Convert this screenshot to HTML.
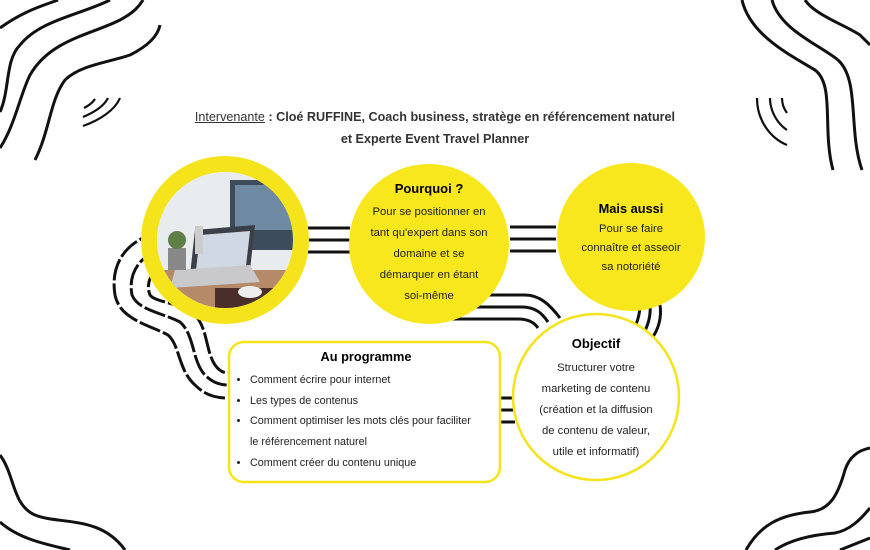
<!DOCTYPE html>
<html><head><meta charset="utf-8"><style>
body{margin:0;width:870px;height:550px;background:#fff;overflow:hidden;position:relative;font-family:"Liberation Sans",sans-serif;color:#333}
.t{position:absolute;text-align:center;white-space:nowrap}
</style></head><body>
<svg width="870" height="550" style="position:absolute;left:0;top:0" fill="none" stroke="#111">
<g stroke-width="3">
<path d="M0,28 C25,10 45,5 58,0"/>
<path d="M0,112 C10,90 5,60 20,45 C40,20 80,15 110,0"/>
<path d="M0,148 C15,125 20,95 30,75 C50,40 90,35 120,20 C135,12 140,5 143,0"/>
<path d="M35,160 C50,130 50,100 65,80 C80,65 110,62 130,55 C150,45 158,35 160,25"/>
<path d="M742,0 C750,35 790,55 815,70 C835,85 822,130 833,170"/>
<path d="M772,0 C780,30 820,45 838,60 C860,80 848,130 862,170"/>
<path d="M805,0 C815,15 845,25 860,35 L870,45"/>
<path d="M0,455 C15,475 12,505 35,515 C60,525 100,515 125,550"/>
<path d="M0,522 C20,540 50,545 70,550"/>
<path d="M746,550 C760,525 780,515 810,512 C830,510 838,495 845,470 C850,455 860,450 870,448"/>
<path d="M775,550 C790,540 810,535 835,533 C850,530 860,520 870,508"/>
<path d="M840,550 C850,546 860,542 870,538"/>
</g>
<g stroke-width="2.2">
<path d="M84,108 C90,105 93,102 95,99"/>
<path d="M83,117 C95,112 104,106 108,98"/>
<path d="M83,126 C100,120 115,110 120,98"/>
<path d="M782,98 C782,104 784,109 787,113"/>
<path d="M770,98 C770,112 778,124 787,130"/>
<path d="M757,98 C757,120 770,138 787,145"/>
</g>
<g stroke-width="3">
<path d="M305,228 H350 M305,240 H350 M305,252 H350"/>
<path d="M510,227 H556 M510,239 H556 M510,251 H556"/>
<path d="M500,398 H515 M500,410 H515 M500,422 H515"/>
<path d="M462,295 H525 C540,295 550,305 560,318"/>
<path d="M455,307 H522 C535,307 542,313 548,322"/>
<path d="M450,319 H518 C528,319 534,322 538,328"/>
<path d="M660,305 C662,318 658,330 652,338"/>
<path d="M650,305 C651,315 648,325 644,333"/>
<path d="M640,305 C640,312 638,320 635,327"/>
</g>
<g stroke-width="3" stroke-dasharray="22,3">
<path d="M160,232 C125,240 110,265 115,295 C120,320 150,325 168,335 C180,345 178,370 195,385 C205,395 215,398 228,398"/>
<path d="M158,250 C138,258 128,275 132,295 C138,310 160,312 180,322 C195,335 192,362 205,375 C213,383 220,385 228,385"/>
<path d="M158,268 C150,275 146,285 150,295 C155,302 175,302 192,312 C208,325 205,350 215,365 C220,372 225,373 228,373"/>
</g>
<circle cx="225" cy="240" r="76" fill="#fff" stroke="#f5e31c" stroke-width="16"/>
<defs><clipPath id="c"><circle cx="225" cy="240" r="68"/></clipPath></defs>
<g clip-path="url(#c)" stroke="none">
<rect x="150" y="170" width="150" height="150" fill="#e9ecef"/>
<rect x="230" y="180" width="75" height="70" fill="#3d4c5c"/>
<rect x="235" y="185" width="65" height="45" fill="#6f8aa3"/>
<rect x="150" y="270" width="150" height="60" fill="#b58a68"/>
<polygon points="195,230 255,225 250,270 190,275" fill="#3a3f48"/>
<polygon points="200,235 250,231 246,266 196,270" fill="#cfd8e3"/>
<polygon points="175,270 250,265 260,282 170,288" fill="#c9c9cb"/>
<rect x="215" y="288" width="60" height="20" fill="#4a2e2a"/>
<ellipse cx="250" cy="292" rx="12" ry="6" fill="#eee"/>
<rect x="168" y="248" width="18" height="22" fill="#888"/>
<circle cx="177" cy="240" r="9" fill="#5e7f45"/>
<rect x="195" y="226" width="8" height="28" fill="#ccc"/>
</g>
<circle cx="429" cy="244" r="80" fill="#f8e71c" stroke="none"/>
<circle cx="631" cy="237" r="74" fill="#f8e71c" stroke="none"/>
<circle cx="596" cy="397" r="83" fill="#fff" stroke="#f5e31c" stroke-width="2.5"/>
<rect x="229" y="342" width="271" height="140" rx="15" fill="#fff" stroke="#f5e31c" stroke-width="2.5"/>
</svg>
<div class="t" style="left:0;width:870px;top:106px;font-size:12.6px;line-height:22px;color:#333"><span style="text-decoration:underline">Intervenante</span> <b>: Cloé RUFFINE, Coach business, stratège en référencement naturel<br>et Experte Event Travel Planner</b></div>
<div class="t" style="left:349px;width:160px;top:178px;font-size:11.3px;line-height:21px;color:#222"><b style="font-size:13px;color:#000">Pourquoi ?</b><br><span style="line-height:21px;display:inline-block;margin-top:1px">Pour se positionner en<br>tant qu'expert dans son<br>domaine et se<br>démarquer en étant<br>soi-même</span></div>
<div class="t" style="left:571px;width:120px;top:199px;font-size:11.3px;line-height:19px;color:#222"><b style="font-size:12.8px;color:#000">Mais aussi</b><br>Pour se faire<br>connaître et asseoir<br>sa notoriété</div>
<div class="t" style="left:516px;width:160px;top:333px;font-size:11.3px;line-height:21px;color:#222"><b style="font-size:13px;color:#000">Objectif</b><br><span style="display:inline-block;margin-top:2px">Structurer votre<br>marketing de contenu<br>(création et la diffusion<br>de contenu de valeur,<br>utile et informatif)</span></div>
<div style="position:absolute;left:232px;width:268px;top:347px;font-size:10.8px;color:#222;line-height:20.8px;white-space:nowrap">
<div style="text-align:center;font-weight:bold;font-size:12.8px;color:#000;margin-bottom:2px">Au programme</div>
<ul style="margin:0;padding-left:18px">
<li>Comment écrire pour internet</li>
<li>Les types de contenus</li>
<li>Comment optimiser les mots clés pour faciliter<br>le référencement naturel</li>
<li>Comment créer du contenu unique</li></ul></div>
</body></html>
